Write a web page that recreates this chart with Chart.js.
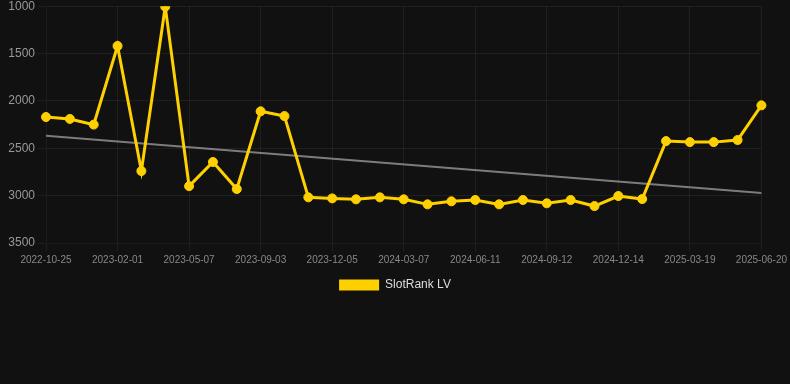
<!DOCTYPE html>
<html>
<head>
<meta charset="utf-8">
<script src="https://cdn.jsdelivr.net/npm/chart.js@4/dist/chart.umd.min.js"></script>
<style>
    html, body { margin: 0; padding: 0; background: #111111; overflow: hidden; }
    #wrap { width: 790px; height: 305px; margin-top: -4px; }
</style>
</head>
<body>
<div id="wrap"><canvas id="rankChart"></canvas></div>
<script>
// Dates of each observation
const dates = [
    '2022-10-25', '2022-11-27', '2022-12-30', '2023-02-01', '2023-03-05', '2023-04-06',
    '2023-05-07', '2023-06-15', '2023-07-25', '2023-09-03', '2023-10-04', '2023-11-04',
    '2023-12-05', '2024-01-05', '2024-02-05', '2024-03-07', '2024-04-08', '2024-05-10',
    '2024-06-11', '2024-07-12', '2024-08-12', '2024-09-12', '2024-10-13', '2024-11-13',
    '2024-12-14', '2025-01-15', '2025-02-16', '2025-03-19', '2025-04-19', '2025-05-20',
    '2025-06-20'
];

// SlotRank LV positions
const rankValues = [
    2170, 2190, 2250, 1420, 2740, 1005,
    2900, 2645, 2930, 2110, 2160, 3018,
    3029, 3039, 3018, 3039, 3092, 3060,
    3046, 3092, 3046, 3081, 3046, 3110,
    3004, 3036, 2424, 2435, 2435, 2413,
    2047
];

// Trend line: only the two ends, joined across the gaps
const trendValues = [2368].concat(new Array(29).fill(null), [2973]);

const yTicks = { min: 1000, max: 3500, step: 500 };

let rankChart;
function initializeChart() {
    const ctx = document.getElementById('rankChart').getContext('2d');
    Chart.defaults.font.family = "'Liberation Sans', Arial, sans-serif";
    rankChart = new Chart(ctx, {
        type: 'line',
        data: {
            labels: dates,
            datasets: [{
                label: 'SlotRank LV',
                data: rankValues,
                borderColor: '#ffd000',
                backgroundColor: '#ffd000',
                borderWidth: 3,
                pointRadius: 4.5,
                pointBorderWidth: 1,
                pointHoverRadius: 6,
                tension: 0
            }, {
                label: 'Trend',
                data: trendValues,
                borderColor: 'rgba(160, 160, 160, 0.75)',
                borderWidth: 2,
                pointRadius: 0,
                spanGaps: true,
                tension: 0
            }]
        },
        options: {
            responsive: true,
            maintainAspectRatio: false,
            animation: false,
            plugins: {
                legend: {
                    position: 'bottom',
                    labels: {
                        color: '#dddddd',
                        font: { size: 12 },
                        boxWidth: 40,
                        boxHeight: 11,
                        // only the main series, box without outline
                        generateLabels: (chart) => Chart.defaults.plugins.legend.labels
                            .generateLabels(chart)
                            .filter((item) => item.datasetIndex === 0)
                            .map((item) => Object.assign(item, { lineWidth: 0 }))
                    }
                },
                tooltip: { enabled: false }
            },
            scales: {
                x: {
                    grid: { color: 'rgba(255, 255, 255, 0.06)' },
                    ticks: {
                        color: '#888888',
                        font: { size: 10 },
                        maxRotation: 0,
                        autoSkip: true,
                        maxTicksLimit: 11
                    }
                },
                y: {
                    reverse: true,
                    min: yTicks.min,
                    max: yTicks.max,
                    afterFit: (scale) => { scale.width = 46; },
                    grid: { color: 'rgba(255, 255, 255, 0.06)' },
                    ticks: {
                        color: '#999999',
                        font: { size: 12 },
                        stepSize: yTicks.step,
                        callback: (value) => String(value)
                    }
                }
            }
        }
    });
}

initializeChart();
</script>
</body>
</html>
